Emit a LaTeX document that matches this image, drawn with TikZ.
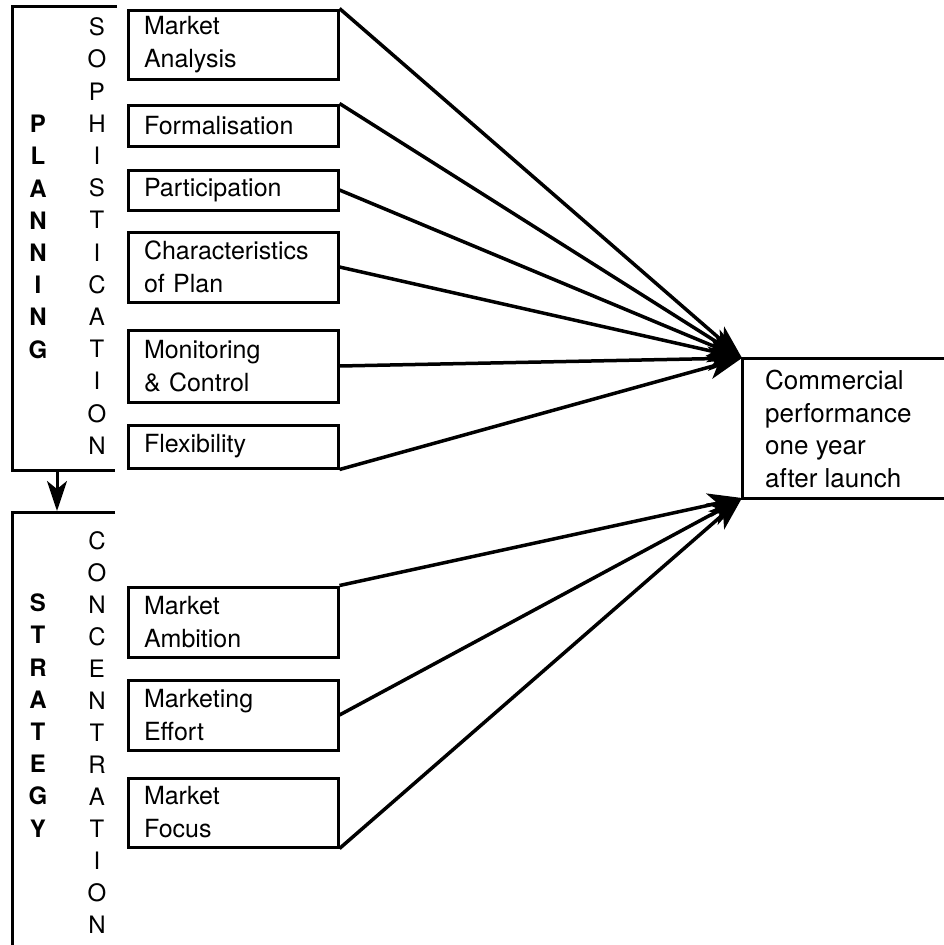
\documentclass[tikz,border=0pt]{standalone}
\usepackage{fontspec}
\setmainfont{TeX Gyre Heros}
\usetikzlibrary{arrows.meta}

\begin{document}
\begin{tikzpicture}[x=1pt, y=-1pt,
    factor/.style={draw, line width=3pt, text width=178pt, inner xsep=16pt, inner ysep=0pt, align=left, font=\fontsize{25}{33}\selectfont},
    letter/.style={inner sep=0pt, font=\fontsize{24}{33}\selectfont},
    bigletter/.style={inner sep=0pt, font=\fontsize{24}{33}\selectfont\bfseries},
    bracket/.style={line width=3pt},
    link/.style={line width=3.5pt, -{Stealth[length=34pt, width=24pt, inset=9pt]}}]
    \useasboundingbox (0,0) rectangle (944,945);

    % brackets
    \draw[bracket] (117,6) -- (12,6) -- (12,470) -- (115,470);
    \draw[bracket] (115,512) -- (12,512) -- (12,948);
    \coordinate (planbot) at (57,470);
    \coordinate (stratop) at (57,511);
    \draw[line width=3pt, -{Stealth[length=30pt, width=20pt, inset=8pt]}] (planbot) -- (stratop);

    % vertical words
    \foreach \l [count=\i] in {P,L,A,N,N,I,N,G}
        \node[bigletter] (plan\i) at (38, {124+32.2*(\i-1)}) {\l};
    \foreach \l [count=\i] in {S,O,P,H,I,S,T,I,C,A,T,I,O,N}
        \node[letter] (soph\i) at (97, {27+32.2*(\i-1)}) {\l};
    \foreach \l [count=\i] in {S,T,R,A,T,E,G,Y}
        \node[bigletter] (strat\i) at (38, {603+32.2*(\i-1)}) {\l};
    \foreach \l [count=\i] in {C,O,N,C,E,N,T,R,A,T,I,O,N}
        \node[letter] (conc\i) at (97, {541+32*(\i-1)}) {\l};

    % planning factors
    \node[factor, minimum height=69pt] (mktan) at (233,44.5) {Market\\Analysis};
    \node[factor, minimum height=41pt] (formal) at (233,125.5) {Formalisation};
    \node[factor, minimum height=40pt] (partic) at (233,190) {Participation};
    \node[factor, minimum height=70pt] (charac) at (233,267) {Characteristics\\of Plan};
    \node[factor, minimum height=72pt] (monit) at (233,366) {Monitoring\\\& Control};
    \node[factor, minimum height=43pt] (flex) at (233,446.5) {Flexibility};

    % strategy factors
    \node[factor, minimum height=70pt] (ambit) at (233,622) {Market\\Ambition};
    \node[factor, minimum height=70pt] (effort) at (233,715) {Marketing\\Effort};
    \node[factor, minimum height=69pt] (focus) at (233,812.5) {Market\\Focus};

    % outcome
    \coordinate (perftop) at (742,358);
    \coordinate (perfbot) at (742,498);
    \draw[bracket] (948,358) -- (perftop) -- (perfbot) -- (948,498);
    \node[anchor=west, align=left, inner sep=0pt, font=\fontsize{26}{32.5}\selectfont] (perf) at (765,429) {Commercial\\performance\\one year\\after launch};

    % links
    \draw[link] (mktan.north east) -- (perftop);
    \draw[link] (formal.north east) -- (perftop);
    \draw[link] (partic.east) -- (perftop);
    \draw[link] (charac.east) -- (perftop);
    \draw[link] (monit.east) -- (perftop);
    \draw[link] (flex.south east) -- (perftop);
    \draw[link] (ambit.north east) -- (perfbot);
    \draw[link] (effort.east) -- (perfbot);
    \draw[link] (focus.south east) -- (perfbot);
\end{tikzpicture}
\end{document}
